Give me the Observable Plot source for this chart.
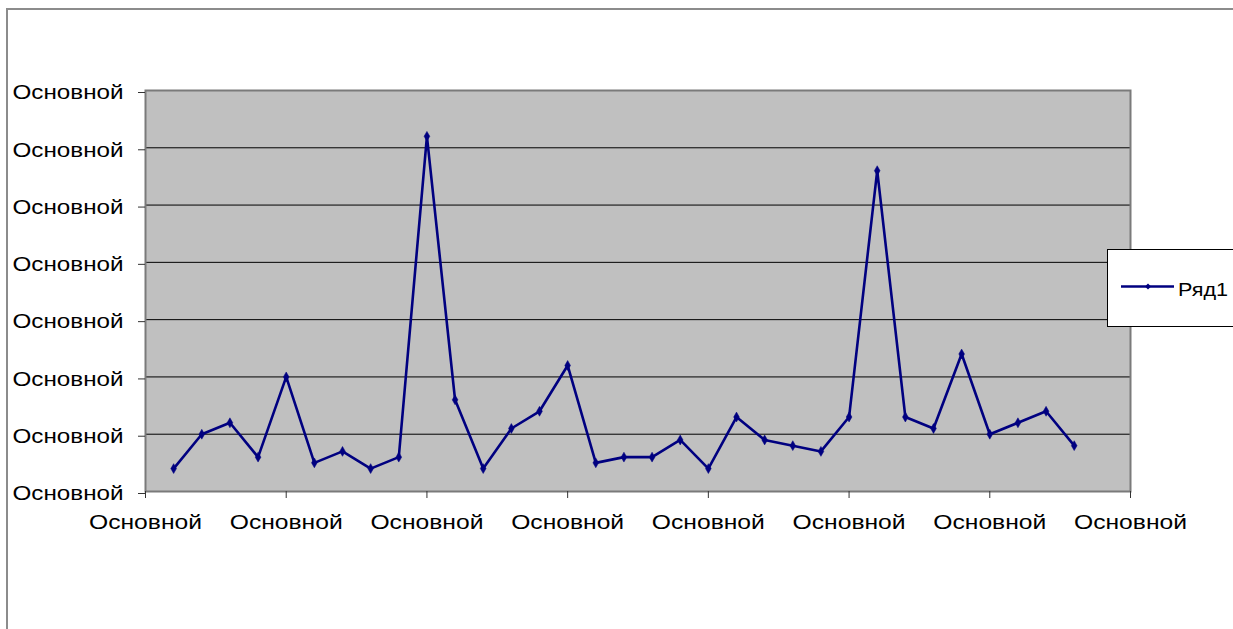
<!DOCTYPE html>
<html>
<head>
<meta charset="utf-8">
<script src="https://cdn.jsdelivr.net/npm/d3@7"></script>
<script src="https://cdn.jsdelivr.net/npm/@observablehq/plot@0.6"></script>
<style>
  html, body { margin: 0; padding: 0; background: #fff; overflow: hidden; }
  #wrap { position: relative; width: 1233px; height: 629px; overflow: hidden; }
  #outer { position: absolute; left: 6px; top: 8px; width: 1400px; height: 800px;
           border-top: 2px solid #8c8c8c; border-left: 2px solid #8c8c8c; box-sizing: border-box; }
  #chart { position: absolute; left: 0; top: 0; }
  #legend { position: absolute; left: 1107px; top: 249px; }
</style>
</head>
<body>
<div id="wrap">
  <div id="outer"></div>
  <div id="chart"></div>
  <div id="legend"></div>
</div>
<script>
// ---- data ----
const categories = [1,2,3,4,5,6,7,8,9,10,11,12,13,14,15,16,17,18,19,20,21,22,23,24,25,26,27,28,29,30,31,32,33];
const values = [0.4,1.0,1.2,0.6,2.0,0.5,0.7,0.4,0.6,6.2,1.6,0.4,1.1,1.4,2.2,0.5,0.6,0.6,0.9,0.4,1.3,0.9,0.8,0.7,1.3,5.6,1.3,1.1,2.4,1.0,1.2,1.4,0.8];
const yTicks = [0,1,2,3,4,5,6,7];
const xTicks = [0,5,10,15,20,25,30,35];
const tickLabel = "Основной";
const seriesName = "Ряд1";

const data = categories.map((c, i) => ({c, v: values[i]}));
const navy = "#000080";
const font = "'Liberation Sans', Arial, sans-serif";

const chart = Plot.plot({
  width: 1233,
  height: 629,
  marginLeft: 145,
  marginRight: 103,
  marginTop: 90,
  marginBottom: 138,
  style: {fontFamily: font, fontSize: "21px", color: "#000", background: "transparent", overflow: "visible"},
  x: {domain: [0, 35]},
  y: {domain: [0, 7]},
  marks: [
    Plot.frame({fill: "#c0c0c0", stroke: null}),
    Plot.ruleY(yTicks.slice(1, -1), {stroke: "#000", strokeWidth: 1}),
    Plot.frame({stroke: "#7a7a7a", strokeWidth: 2}),
    Plot.axisY({ticks: yTicks, tickFormat: () => tickLabel, tickSize: 7, tickPadding: 15,
                stroke: "#333", fill: "#000", fontSize: 21, label: null, dy: 2}),
    Plot.axisX({ticks: xTicks, tickFormat: () => tickLabel, tickSize: 7, tickPadding: 16,
                stroke: "#333", fill: "#000", fontSize: 21, label: null}),
    Plot.line(data, {x: "c", y: "v", stroke: navy, strokeWidth: 2.6}),
    Plot.dot(data, {x: "c", y: "v", symbol: "diamond", r: 3, fill: navy, stroke: navy, strokeWidth: 0.5})
  ]
});

chart.querySelectorAll('g[aria-label="y-axis tick label"] text').forEach(t => {
  t.setAttribute("textLength", 111);
  t.setAttribute("lengthAdjust", "spacingAndGlyphs");
});
chart.querySelectorAll('g[aria-label="x-axis tick label"] text').forEach(t => {
  t.setAttribute("textLength", 113);
  t.setAttribute("lengthAdjust", "spacingAndGlyphs");
});
document.getElementById("chart").appendChild(chart);

// ---- legend ----
const ns = "http://www.w3.org/2000/svg";
const lg = document.createElementNS(ns, "svg");
lg.setAttribute("width", 140);
lg.setAttribute("height", 78);
lg.innerHTML = `
  <rect x="0.5" y="0.5" width="160" height="77" fill="#fff" stroke="#000" stroke-width="1"></rect>
  <line x1="14" x2="67" y1="37.5" y2="37.5" stroke="${navy}" stroke-width="2.6"></line>
  <path d="M41,34.5L44,37.5L41,40.5L38,37.5Z" fill="${navy}"></path>
  <text x="71" y="47" font-family="${font.replace(/'/g, "")}" font-size="19" fill="#000"
        textLength="50" lengthAdjust="spacingAndGlyphs">${seriesName}</text>`;
document.getElementById("legend").appendChild(lg);
</script>
</body>
</html>
